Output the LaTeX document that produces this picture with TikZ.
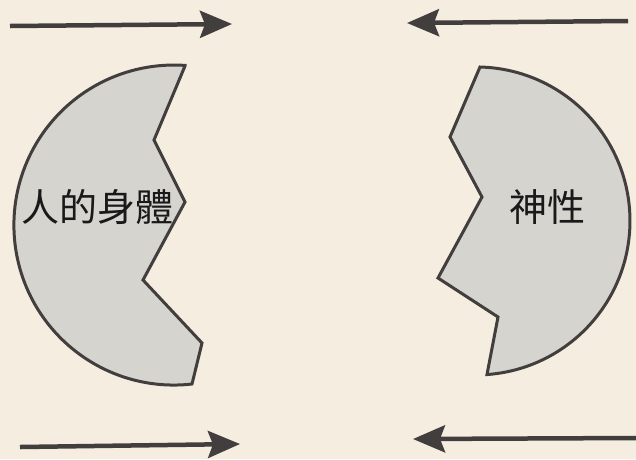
\documentclass[tikz,border=0pt]{standalone}
\usepackage{fontspec}
\newfontfamily\cjk{Noto Sans CJK TC}
\usetikzlibrary{arrows.meta}
\definecolor{carta}{RGB}{244,237,224}
\definecolor{grigioforma}{RGB}{214,212,207}
\definecolor{grigioscuro}{RGB}{66,62,62}

\begin{document}
\begin{tikzpicture}[x=1pt,y=-1pt]
    % Definizione stili
    \tikzset{
        forma/.style={
            fill=grigioforma,
            draw=grigioscuro,
            line width=3pt,
            line join=miter
        },
        freccia/.style={-{Stealth[length=32pt,width=27pt,inset=5pt]}, line width=4.5pt, draw=grigioscuro, fill=grigioscuro},
        etichetta/.style={font=\cjk\fontsize{38}{38}\selectfont, text=black!90}
    }

    % Sfondo
    \fill[carta] (0,0) rectangle (636,459);
    \useasboundingbox (0,0) rectangle (636,459);

    % Forme
    \draw[forma] (185,66) -- (154,140) -- (185,202) -- (143,280) -- (202,343) -- (192,384)
        arc[start angle=83.5, end angle=274, radius=160] -- cycle;
    \draw[forma] (480,67) arc[start angle=-88.5, end angle=85.9, radius=154]
        -- (498,317) -- (438,278) -- (482,197) -- (450,137) -- cycle;

    % Etichette
    \node[etichetta] (corpo) at (97,207) {人的身體};
    \node[etichetta] (divino) at (547,207) {神性};

    % Estremi delle frecce
    \coordinate (alto1) at (10,26);   \coordinate (punta1) at (232,24);
    \coordinate (alto2) at (628,21);  \coordinate (punta2) at (407,23);
    \coordinate (basso1) at (20,447); \coordinate (punta3) at (240,444);
    \coordinate (basso2) at (636,438); \coordinate (punta4) at (413,439);

    % Frecce
    \draw[freccia] (alto1) -- (punta1);
    \draw[freccia] (alto2) -- (punta2);
    \draw[freccia] (basso1) -- (punta3);
    \draw[freccia] (basso2) -- (punta4);

\end{tikzpicture}
\end{document}
